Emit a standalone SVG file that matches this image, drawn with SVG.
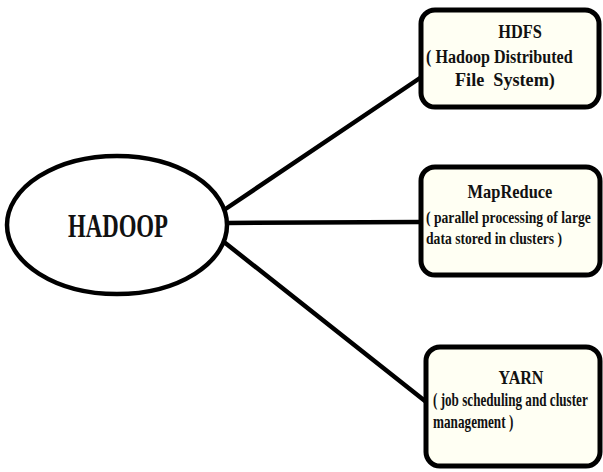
<svg xmlns="http://www.w3.org/2000/svg" width="603" height="472" viewBox="0 0 603 472">
<style>
.bg{fill:#ffffff}
.ell{fill:#ffffff;stroke:#000;stroke-width:4.5}
.box{fill:#fffff3;stroke:#000;stroke-width:5}
.conn line{stroke:#000;stroke-width:4.5;stroke-linecap:round}
text{font-family:"Liberation Serif","Times New Roman",serif;font-weight:bold;fill:#111}
</style>
<rect class="bg" x="0" y="0" width="603" height="472"/>
<g id="connectors" class="conn">
<line x1="224" y1="210" x2="420" y2="78"/>
<line x1="227" y1="223" x2="420" y2="222"/>
<line x1="224" y1="242" x2="425" y2="401"/>
</g>
<g id="hadoop">
<ellipse class="ell" cx="117" cy="225" rx="110" ry="69"/>
<text transform="translate(118,237) scale(0.69,1)" font-size="33" text-anchor="middle" textLength="145" lengthAdjust="spacingAndGlyphs">HADOOP</text>
</g>
<g id="hdfs">
<rect class="box" x="421" y="10" width="178" height="97" rx="14"/>
<text transform="translate(520,38) scale(0.78,1)" font-size="19" text-anchor="middle" textLength="56" lengthAdjust="spacingAndGlyphs">HDFS</text>
<text transform="translate(426,63) scale(0.78,1)" font-size="19" textLength="188" lengthAdjust="spacingAndGlyphs">( Hadoop Distributed</text>
<text transform="translate(455,86) scale(0.78,1)" font-size="19" textLength="128" lengthAdjust="spacingAndGlyphs" xml:space="preserve">File  System)</text>
</g>
<g id="mapreduce">
<rect class="box" x="421" y="167" width="179" height="108" rx="14"/>
<text transform="translate(510,198) scale(0.8,1)" font-size="18" text-anchor="middle" textLength="106" lengthAdjust="spacingAndGlyphs">MapReduce</text>
<text transform="translate(426,223) scale(0.8,1)" font-size="17" textLength="206" lengthAdjust="spacingAndGlyphs">( parallel processing of large</text>
<text transform="translate(426,244) scale(0.8,1)" font-size="17" textLength="170" lengthAdjust="spacingAndGlyphs">data stored in clusters )</text>
</g>
<g id="yarn">
<rect class="box" x="426" y="347" width="174" height="119" rx="14"/>
<text transform="translate(521,384) scale(0.75,1)" font-size="18" text-anchor="middle" textLength="60" lengthAdjust="spacingAndGlyphs">YARN</text>
<text transform="translate(433,406) scale(0.73,1)" font-size="18" textLength="212" lengthAdjust="spacingAndGlyphs">( job scheduling and cluster</text>
<text transform="translate(433,428) scale(0.73,1)" font-size="18" textLength="110" lengthAdjust="spacingAndGlyphs">management )</text>
</g>
</svg>
